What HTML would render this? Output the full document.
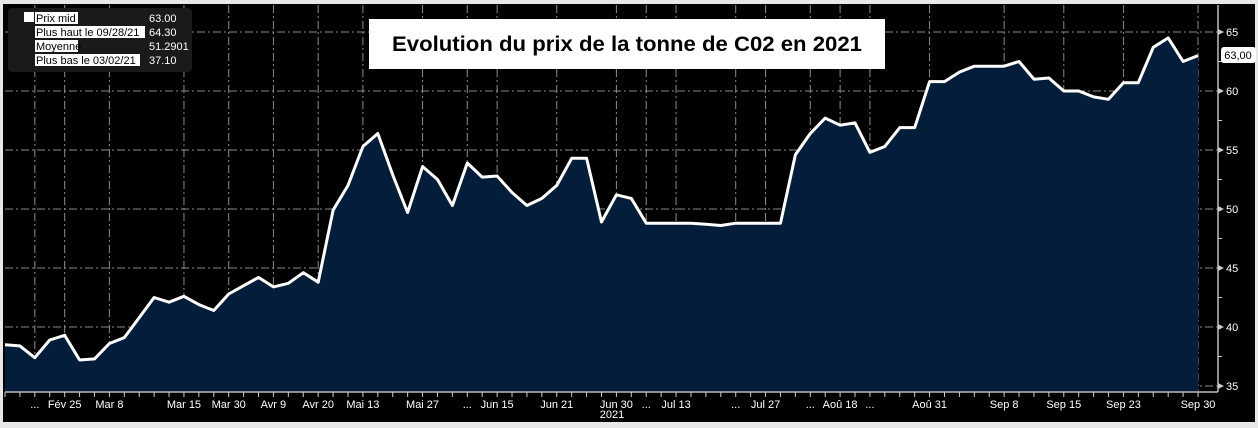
<!DOCTYPE html>
<html><head><meta charset="utf-8"><style>
html,body{margin:0;padding:0;background:#fff;}
svg{display:block;font-family:"Liberation Sans",sans-serif;}
</style></head><body>
<svg id="chart" width="1258" height="428" viewBox="0 0 1258 428">
<rect x="0" y="0" width="1258" height="428" fill="#e8e8e8"/>
<rect x="3" y="4" width="1252" height="418" fill="#000"/>
<g id="grid"></g>
<path id="area" fill="#041d3a"/>
<path id="line" fill="none" stroke="#fff" stroke-width="3" stroke-linejoin="round"/>
<line x1="5" y1="392" x2="1218" y2="392" stroke="#bbb" stroke-width="1.5"/>
<line x1="1218" y1="5" x2="1218" y2="392" stroke="#bbb" stroke-width="1.5"/>
<g id="xticks"></g>
<g id="yticks"></g>
<text x="612" y="418" fill="#fff" font-size="11" text-anchor="middle">2021</text>
<g>
<rect x="1221" y="47" width="35" height="16" rx="3" fill="#fff"/>
<text x="1238" y="59" font-size="11" fill="#000" text-anchor="middle">63,00</text>
</g>
<g>
<rect x="8" y="8" width="184" height="64" rx="4" fill="#1a1a1a"/>
<rect x="24" y="12" width="10" height="10" fill="#fff"/>
<rect x="35" y="12" width="43" height="12" fill="#fff"/>
<text x="36" y="22" font-size="11" fill="#000">Prix mid</text>
<rect x="35" y="26" width="110" height="12" fill="#fff"/>
<text x="36" y="36" font-size="11" fill="#000">Plus haut le 09/28/21</text>
<rect x="35" y="40" width="43" height="12" fill="#fff"/>
<text x="36" y="50" font-size="11" fill="#000">Moyenne</text>
<rect x="35" y="54" width="105" height="12" fill="#fff"/>
<text x="36" y="64" font-size="11" fill="#000">Plus bas le 03/02/21</text>
<text x="149" y="22" font-size="11" fill="#fff">63.00</text>
<text x="149" y="36" font-size="11" fill="#fff">64.30</text>
<text x="149" y="50" font-size="11" fill="#fff">51.2901</text>
<text x="149" y="64" font-size="11" fill="#fff">37.10</text>
</g>
<g>
<rect x="369" y="19" width="516" height="50" fill="#fff"/>
<text x="627" y="51" font-size="21" font-weight="bold" fill="#000" text-anchor="middle" textLength="470" lengthAdjust="spacingAndGlyphs">Evolution du prix de la tonne de C02 en 2021</text>
</g>
</svg>
<script>
const values=[38.5,38.4,37.4,38.9,39.3,37.2,37.3,38.6,39.1,40.8,42.5,42.1,42.6,41.9,41.4,42.8,43.5,44.2,43.4,43.7,44.6,43.8,49.9,52.0,55.3,56.4,52.9,49.7,53.6,52.5,50.3,53.9,52.7,52.8,51.4,50.3,50.9,52.0,54.3,54.3,48.9,51.2,50.9,48.8,48.8,48.8,48.8,48.7,48.6,48.8,48.8,48.8,48.8,54.6,56.4,57.7,57.1,57.3,54.8,55.3,56.9,56.9,60.8,60.8,61.6,62.1,62.1,62.1,62.5,61.0,61.1,60.0,60.0,59.5,59.3,60.7,60.7,63.7,64.5,62.5,63.0];
const xLabels=["...","Fév 25","Mar 8","Mar 15","Mar 30","Avr 9","Avr 20","Mai 13","Mai 27","...","Jun 15","Jun 21","Jun 30","...","Jul 13","...","Jul 27","...","Aoû 18","...","Aoû 31","Sep 8","Sep 15","Sep 23","Sep 30"];
const xLabelIdx=[2,4,7,12,15,18,21,24,28,31,33,37,41,43,45,49,51,54,56,58,62,67,71,75,80];
const yTicks=[35,40,45,50,55,60,65];
const NS="http://www.w3.org/2000/svg";
const x=i=>5+i*(1198-5)/(values.length-1);
const y=v=>386-(v-35)*11.8;
function mk(tag,attrs,parent){const e=document.createElementNS(NS,tag);for(const k in attrs)e.setAttribute(k,attrs[k]);parent.appendChild(e);return e;}
let d="";values.forEach((v,i)=>{d+=(i?"L":"M")+x(i).toFixed(1)+","+y(v).toFixed(1);});
document.getElementById("line").setAttribute("d",d);
document.getElementById("area").setAttribute("d",d+"L"+x(values.length-1)+",392L5,392Z");
const grid=document.getElementById("grid"),yt=document.getElementById("yticks"),xt=document.getElementById("xticks");
yTicks.forEach(t=>{
 const l=mk("line",{x1:5,x2:1218,y1:y(t),y2:y(t),stroke:"#8a8a8a","stroke-width":1,"stroke-dasharray":"8,3,2,3"},grid);
 
 
 const p=mk("path",{d:`M1218,${y(t)-3}L1224,${y(t)}L1218,${y(t)+3}Z`,fill:"#ccc"},yt);
 
 
 const tx=mk("text",{x:1226,y:y(t)+4,fill:"#fff","font-size":11},yt);
 tx.textContent=t;
 
 
 if(t<65){const m=mk("line",{x1:1218,x2:1222,y1:y(t+2.5),y2:y(t+2.5),stroke:"#ccc"},yt);
 
 }
});
xLabels.forEach((s,k)=>{
 const xx=x(xLabelIdx[k]);
 const g=mk("line",{x1:xx,x2:xx,y1:5,y2:392,stroke:"#8a8a8a","stroke-width":1,"stroke-dasharray":"8,3,2,3"},grid);
 
 
 const tx=mk("text",{x:xx,y:408,fill:"#fff","font-size":11,"text-anchor":"middle"},xt);
 tx.textContent=s;
 
 
});
values.forEach((v,i)=>{const t=mk("line",{x1:x(i),x2:x(i),y1:392,y2:397,stroke:"#ccc"},xt);
 
 });
</script>
</body></html>
